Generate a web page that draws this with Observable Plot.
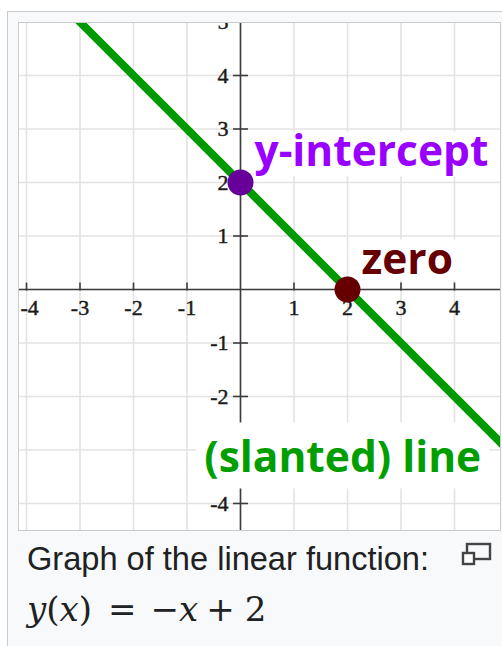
<!DOCTYPE html>
<html>
<head>
<meta charset="utf-8">
<script src="https://cdn.jsdelivr.net/npm/d3@7"></script>
<script src="https://cdn.jsdelivr.net/npm/@observablehq/plot@0.6"></script>
<style>
  html, body { margin: 0; padding: 0; background: #fff; width: 502px; height: 646px; overflow: hidden; }
  .thumb { position: absolute; left: 7px; top: 11px; width: 620px; height: 700px;
           background: #f8f9fa; border: 1px solid #c8ccd1; }
  .image { position: absolute; left: 10px; top: 10px; border: 1px solid #c8ccd1; background: #fff; line-height: 0; }
  .image svg { display: block; }
  .caption { position: absolute; left: 19px; top: 531px; font-family: "Liberation Sans", Arial, sans-serif;
             font-size: 32.6px; line-height: 32px; color: #202122; white-space: nowrap; }
  .formula { position: absolute; left: 19px; top: 580px; font-family: "DejaVu Serif", serif;
             font-size: 34px; line-height: 34px; color: #202122; white-space: nowrap; }
  .formula i { font-style: italic; }
  .enlarge { position: absolute; left: 452px; top: 530px; }
</style>
</head>
<body>
<div class="thumb">
  <div class="image" id="chart"></div>
  <div class="caption">Graph of the linear function:</div>
  <div class="formula"><i>y</i>(<i>x</i>)<span style="margin-left:16px">=</span><span style="margin-left:14px">−</span><i>x</i><span style="margin-left:8px">+</span><span style="margin-left:10px">2</span></div>
  <svg class="enlarge" width="36" height="28" viewBox="0 0 36 28">
    <rect x="7" y="2" width="23" height="15" fill="#f8f9fa" stroke="#444" stroke-width="2.4"/>
    <rect x="3" y="11" width="11" height="11" fill="#fff" stroke="#444" stroke-width="2.4"/>
  </svg>
</div>
<script>
// Graph of the linear function y(x) = -x + 2

// grid lines and axis ticks
const gridValues = [-4, -3, -2, -1, 0, 1, 2, 3, 4];
const xTicks = [-4, -3, -2, -1, 1, 2, 3, 4];
const yTicks = [-4, -3, -2, -1, 1, 2, 3, 4];
// y tick labels that stay visible (the -3 label sits under the line's label)
const yTickLabels = [-4, -2, -1, 1, 2, 3, 4, 5];

// two points of the line, beyond the visible window on both sides
const lineX = [-3.5, 5];
const lineY = [5.5, -3];

// marked points: y-intercept and zero
const pointNames = ["y-intercept", "zero"];
const pointX = [0, 2];
const pointY = [2, 0];

// label of the line itself
const lineLabel = "(slanted) line";

const points = pointNames.map((name, i) => ({name, x: pointX[i], y: pointY[i]}));
const linePts = lineX.map((x, i) => ({x, y: lineY[i]}));

const axisColor = "#3c3c3c";
const tickFont = {fontFamily: "Liberation Serif, serif", fontSize: 22, fill: "#1a1a1a", stroke: "#1a1a1a", strokeWidth: 0.45};
const calloutFont = {fontFamily: "Open Sans, sans-serif", fontSize: 42.5, fontWeight: 700, lineAnchor: "bottom"};

const chart = Plot.plot({
  width: 481,
  height: 507,
  margin: 0,
  x: {domain: [-4.131, 4.86], axis: null},
  y: {domain: [-4.505, 4.972], axis: null},
  style: {background: "#fff", overflow: "hidden"},
  marks: [
    Plot.ruleX(gridValues, {stroke: "#e3e3e3", strokeWidth: 1.6}),
    Plot.ruleY(gridValues, {stroke: "#e3e3e3", strokeWidth: 1.6}),
    Plot.ruleX([0], {stroke: axisColor, strokeWidth: 1.6}),
    Plot.ruleY([0], {stroke: axisColor, strokeWidth: 1.6}),
    Plot.ruleX(xTicks, {y1: -0.03, y2: 0.12, stroke: axisColor, strokeWidth: 1.6}),
    Plot.ruleY(yTicks, {x1: -0.13, x2: 0.15, stroke: axisColor, strokeWidth: 1.6}),
    Plot.text(xTicks.slice(1), {x: d => d, y: 0, dy: 18, text: d => String(d), ...tickFont}),
    Plot.text(xTicks.slice(0, 1), {x: d => d, y: 0, dy: 18, dx: -6, textAnchor: "start", text: d => String(d), ...tickFont}),
    Plot.text(yTickLabels, {x: 0, y: d => d, dx: -12, textAnchor: "end", text: d => String(d), ...tickFont}),
    Plot.text(points.slice(0, 1), {x: "x", y: "y", text: "name", dx: 14, dy: -16, textAnchor: "start",
      fill: "#9900ff", className: "callout-a", ...calloutFont}),
    Plot.text(points.slice(1, 2), {x: "x", y: "y", text: "name", dx: 14, dy: -15, textAnchor: "start",
      fill: "#660000", className: "callout-b", ...calloutFont}),
    Plot.text([lineLabel], {x: () => 4.5, y: () => -3.42, text: d => d, textAnchor: "end",
      fill: "#009e00", className: "callout-c", ...calloutFont}),
    Plot.line(linePts, {x: "x", y: "y", stroke: "#009900", strokeWidth: 8, clip: true}),
    Plot.dot(points.slice(0, 1), {x: "x", y: "y", r: 13, fill: "#660099"}),
    Plot.dot(points.slice(1, 2), {x: "x", y: "y", r: 13, fill: "#660000"})
  ]
});

document.getElementById("chart").appendChild(chart);

// white boxes behind the callout labels (extents measured from the baseline)
const boxes = {"callout-a": [35, 10, 5], "callout-b": [35, 6, 6], "callout-c": [50, 16, 8]};
for (const [cls, [above, below, pad]] of Object.entries(boxes)) {
  chart.querySelectorAll(`g.${cls} text`).forEach(t => {
    const bb = t.getBBox();
    const r = document.createElementNS("http://www.w3.org/2000/svg", "rect");
    r.setAttribute("x", bb.x - pad);
    r.setAttribute("width", bb.width + 2 * pad);
    r.setAttribute("y", -above);
    r.setAttribute("height", above + below);
    r.setAttribute("fill", "#fff");
    if (t.getAttribute("transform")) r.setAttribute("transform", t.getAttribute("transform"));
    t.parentNode.insertBefore(r, t);
  });
}
</script>
</body>
</html>
